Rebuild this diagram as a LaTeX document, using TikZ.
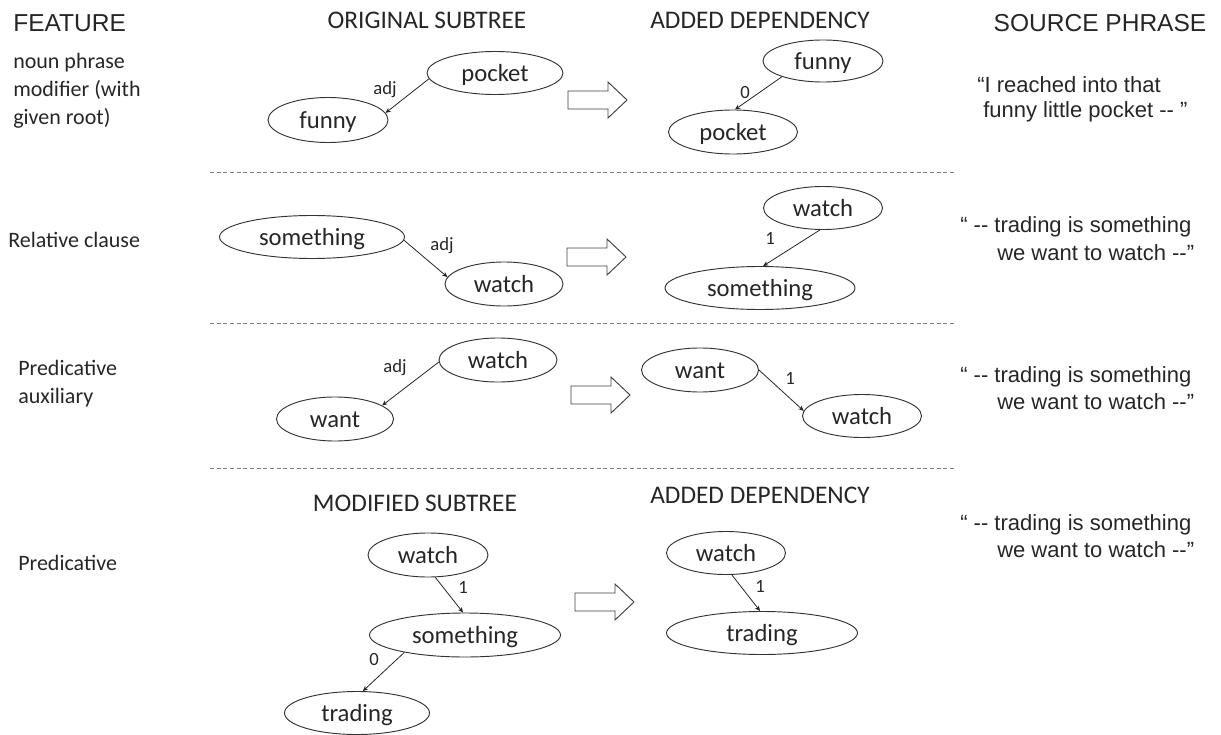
\documentclass[tikz,border=0pt]{standalone}
\usepackage{fontspec}
\setmainfont{Carlito}
\newfontfamily\arialf{Liberation Sans}
\usetikzlibrary{shapes.geometric,arrows.meta}
\begin{document}
\begin{tikzpicture}[x=0.75pt,y=-0.75pt,
  tok/.style 2 args={ellipse, draw=black!80, line width=0.7pt, inner sep=0pt,
     minimum width=#1*0.75pt, minimum height=#2*0.75pt,
     text height=13.2pt, text depth=0pt,
     font=\fontsize{18.5}{20}\selectfont, text=black!85},
  dep/.style={draw=black!85, line width=0.6pt, -{Stealth[length=4pt,width=3.5pt]}},
  lab/.style={font=\fontsize{14}{16}\selectfont, text=black!85, inner sep=0pt},
  head/.style={font=\fontsize{19}{22}\selectfont, text=black!85, inner sep=0pt},
  ahead/.style={font=\arialf\fontsize{18.4}{22}\selectfont, text=black!85, inner sep=0pt},
  feat/.style={font=\fontsize{16.5}{21}\selectfont, text=black!85, inner sep=0pt, align=left, anchor=west},
  src/.style={font=\arialf\fontsize{16.5}{20}\selectfont, text=black!85, inner sep=0pt, anchor=west},
  sep/.style={draw=black!50, dash pattern=on 3pt off 2pt, line width=0.6pt},
  blk/.style={draw=black!75, line width=0.7pt, fill=white},
  bigarrow/.pic={\draw[blk] (0,-9) -- (40,-9) -- (40,-18) -- (59,0) -- (40,18) -- (40,9) -- (0,9) -- cycle;}
]
\useasboundingbox (0,0) rectangle (1221,735);

% headings
\node[ahead, anchor=west] (hfeat) at (13,23) {FEATURE};
\node[head] (horig) at (427,20) {ORIGINAL SUBTREE};
\node[head] (hadd) at (760,20) {ADDED DEPENDENCY};
\node[ahead] (hsrc) at (1100,23) {SOURCE PHRASE};

% separators
\coordinate (s1a) at (210,172); \coordinate (s1b) at (955,172);
\coordinate (s2a) at (210,323); \coordinate (s2b) at (955,323);
\coordinate (s3a) at (210,468); \coordinate (s3b) at (955,468);
\draw[sep] (s1a) -- (s1b);
\draw[sep] (s2a) -- (s2b);
\draw[sep] (s3a) -- (s3b);

% ---------- row 1
\node[feat] (f1) at (13,91) {noun phrase\\modifier (with\\given root)};
\node[tok={136}{43}] (r1pocket) at (495,73) {pocket};
\node[tok={120}{45}] (r1funny) at (328,120) {funny};
\draw[dep] (r1pocket.185) -- (r1funny.7);
\node[lab] (r1adj) at (385,90) {adj};
\pic at (568,100) {bigarrow};
\node[tok={120}{42}] (r1funnyB) at (823,61) {funny};
\node[tok={129}{44}] (r1pocketB) at (733,132) {pocket};
\draw[dep] (r1funnyB.201) -- (r1pocketB.85);
\node[lab] (r1zero) at (745,93) {0};
\node[src] (p1a) at (977,85) {“I reached into that};
\node[src] (p1b) at (983,112) {funny little pocket -{}- ”};

% ---------- row 2
\node[feat] (f2) at (8,240) {Relative clause};
\node[tok={185}{43}] (r2some) at (312,237) {something};
\node[tok={118}{44}] (r2watch) at (504,284) {watch};
\draw[dep] (r2some.-2) -- (r2watch.173);
\node[lab] (r2adj) at (442,246) {adj};
\pic at (567,257) {bigarrow};
\node[tok={119}{43}] (r2watchB) at (823,208) {watch};
\node[tok={190}{43}] (r2someB) at (760,288) {something};
\draw[dep] (r2watchB.262) -- (r2someB.82);
\node[lab] (r2one) at (770,238) {1};
\node[src] (p2a) at (960,227) {“ -{}- trading is something};
\node[src] (p2b) at (997,253) {we want to watch -{}-”};

% ---------- row 3
\node[feat] (f3) at (18,384) {Predicative\\auxiliary};
\node[tok={118}{44}] (r3watch) at (498,360) {watch};
\node[tok={117}{44}] (r3want) at (335,419) {want};
\draw[dep] (r3watch.182) -- (r3want.16);
\node[lab] (r3adj) at (395,368) {adj};
\pic at (571,395) {bigarrow};
\node[tok={117}{44}] (r3wantB) at (700,370) {want};
\node[tok={119}{43}] (r3watchB) at (862,416) {watch};
\draw[dep] (r3wantB.0) -- (r3watchB.175);
\node[lab] (r3one) at (790,378) {1};
\node[src] (p3a) at (960,377) {“ -{}- trading is something};
\node[src] (p3b) at (997,402) {we want to watch -{}-”};

% ---------- row 4
\node[feat] (f4) at (18,563) {Predicative};
\node[head] (hmod) at (415,503) {MODIFIED SUBTREE};
\node[head] (hadd2) at (760,495) {ADDED DEPENDENCY};
\node[tok={120}{44}] (r4watch) at (428,555) {watch};
\node[tok={191}{44}] (r4some) at (465,635) {something};
\node[tok={145}{43}] (r4trad) at (357,713) {trading};
\draw[dep] (r4watch.288) -- (r4some.95);
\node[lab] (r4one) at (463,587) {1};
\draw[dep] (r4some.196) -- (r4trad.75);
\node[lab] (r4zero) at (374,660) {0};
\pic at (575,602) {bigarrow};
\node[tok={119}{43}] (r4watchB) at (726,553) {watch};
\node[tok={191}{43}] (r4tradB) at (762,633) {trading};
\draw[dep] (r4watchB.285) -- (r4tradB.95);
\node[lab] (r4oneB) at (760,586) {1};
\node[src] (p4a) at (960,525) {“ -{}- trading is something};
\node[src] (p4b) at (997,550) {we want to watch -{}-”};
\end{tikzpicture}
\end{document}
